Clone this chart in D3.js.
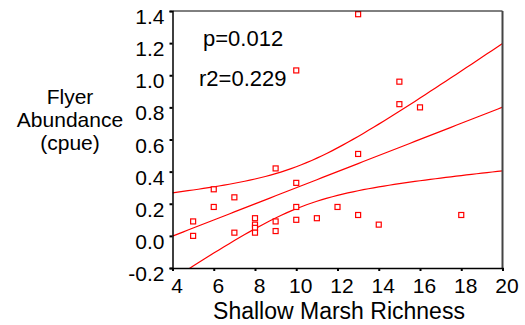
<!DOCTYPE html>
<html>
<head>
<meta charset="utf-8">
<script src="https://cdn.jsdelivr.net/npm/d3@7"></script>
<style>
  body { margin: 0; background: #fff; }
  text { font-family: "Liberation Sans", Arial, sans-serif; fill: #000; }
</style>
</head>
<body>
<script>
// chart values
const richness = [5, 5, 6, 6, 7, 7, 8, 8, 8, 8, 9, 9, 9, 10, 10, 10, 11, 12, 13, 13, 14, 18, 13, 15, 15, 16, 10];
const flyers = [0.09, 0.00, 0.29, 0.18, 0.24, 0.02, 0.11, 0.07, 0.05, 0.02, 0.42, 0.09, 0.03, 0.33, 0.18, 0.10,
                0.11, 0.18, 0.51, 0.13, 0.07, 0.13, 1.38, 0.96, 0.82, 0.80, 1.03];
const xTicks = [4, 6, 8, 10, 12, 14, 16, 18, 20];
const yTicks = [-0.2, 0.0, 0.2, 0.4, 0.6, 0.8, 1.0, 1.2, 1.4];
const stats = ["p=0.012", "r2=0.229"];
const yTitle = ["Flyer", "Abundance", "(cpue)"];
const xTitle = "Shallow Marsh Richness";
const tCrit = 2.060; // t(0.975, df=25)

const w = 525;
const h = 325;
const mLeft = 172.5, mRight = 502.5, mTop = 11, mBottom = 268;

let dataset = richness.map((r, i) => ({x: r, y: flyers[i]}));

let x = d3.scaleLinear().domain([4, 20]).range([mLeft, mRight]);
let y = d3.scaleLinear().domain([-0.2, 1.4]).range([mBottom, mTop]);

// least squares fit + 95% band for the mean
const n = dataset.length;
const mx = d3.mean(dataset, d => d.x);
const my = d3.mean(dataset, d => d.y);
const sxx = d3.sum(dataset, d => (d.x - mx) ** 2);
const sxy = d3.sum(dataset, d => (d.x - mx) * (d.y - my));
const slope = sxy / sxx;
const icpt = my - slope * mx;
const sse = d3.sum(dataset, d => (d.y - icpt - slope * d.x) ** 2);
const s = Math.sqrt(sse / (n - 2));

let grid = d3.range(4, 20.001, 0.25);
let fit = grid.map(v => {
    let yh = icpt + slope * v;
    let half = tCrit * s * Math.sqrt(1 / n + (v - mx) ** 2 / sxx);
    return {x: v, y: yh, lo: yh - half, hi: yh + half};
});

let svg = d3.select("body")
            .append("svg")
            .attr("width", w)
            .attr("height", h);

svg.append("clipPath")
    .attr("id", "plot")
    .append("rect")
    .attr("x", mLeft).attr("y", mTop)
    .attr("width", mRight - mLeft).attr("height", mBottom - mTop);

let lines = svg.append("g").attr("clip-path", "url(#plot)");
["lo", "y", "hi"].forEach(k => {
    lines.append("path")
        .datum(fit)
        .attr("fill", "none")
        .attr("stroke", "#ff0000")
        .attr("stroke-width", 1.2)
        .attr("d", d3.line().x(d => x(d.x)).y(d => y(d[k])));
});

svg.selectAll("rect.pt")
    .data(dataset)
    .enter()
    .append("rect")
    .attr("class", "pt")
    .attr("x", d => x(d.x) - 2.5)
    .attr("y", d => y(d.y) - 2.5)
    .attr("width", 5)
    .attr("height", 5)
    .attr("fill", "#fff")
    .attr("stroke", "#ff0000")
    .attr("stroke-width", 1.2);

// frame: top and right
svg.append("line")
    .attr("x1", mLeft).attr("x2", mRight)
    .attr("y1", mTop).attr("y2", mTop)
    .attr("stroke", "#000").attr("stroke-width", 1);
svg.append("line")
    .attr("x1", mRight).attr("x2", mRight)
    .attr("y1", mTop).attr("y2", mBottom)
    .attr("stroke", "#444").attr("stroke-width", 2);

let xAxis = svg.append("g")
    .attr("transform", "translate(0, " + mBottom + ")")
    .call(d3.axisBottom(x).tickValues(xTicks).tickSize(3).tickPadding(4).tickFormat(d3.format("d")));
xAxis.selectAll("text").attr("font-size", 21).attr("dx", 4).attr("dy", "0.85em");

let yAxis = svg.append("g")
    .attr("transform", "translate(" + mLeft + ", 0)")
    .call(d3.axisLeft(y).tickValues(yTicks).tickSize(3).tickPadding(5).tickFormat(d3.format(".1f")));
yAxis.selectAll("text").attr("font-size", 21).attr("dy", "0.6em");

[xAxis, yAxis].forEach(a => {
    a.attr("font-family", null);
    a.select(".domain").attr("stroke", "#000").attr("stroke-width", 1.5);
    a.selectAll(".tick line").attr("stroke", "#000").attr("stroke-width", 2);
});
yAxis.selectAll("text").text(d => d3.format(".1f")(d).replace("−", "-"));

svg.selectAll("text.stat")
    .data(stats)
    .enter()
    .append("text")
    .attr("class", "stat")
    .attr("x", (d, i) => i === 0 ? 203 : 199)
    .attr("y", (d, i) => i === 0 ? 46 : 86)
    .attr("font-size", 22)
    .text(d => d);

svg.selectAll("text.ytitle")
    .data(yTitle)
    .enter()
    .append("text")
    .attr("class", "ytitle")
    .attr("x", 70)
    .attr("y", (d, i) => 104 + i * 23)
    .attr("text-anchor", "middle")
    .attr("font-size", 21)
    .text(d => d);

svg.append("text")
    .attr("x", 339)
    .attr("y", 319)
    .attr("text-anchor", "middle")
    .attr("font-size", 23)
    .text(xTitle);
</script>
</body>
</html>
